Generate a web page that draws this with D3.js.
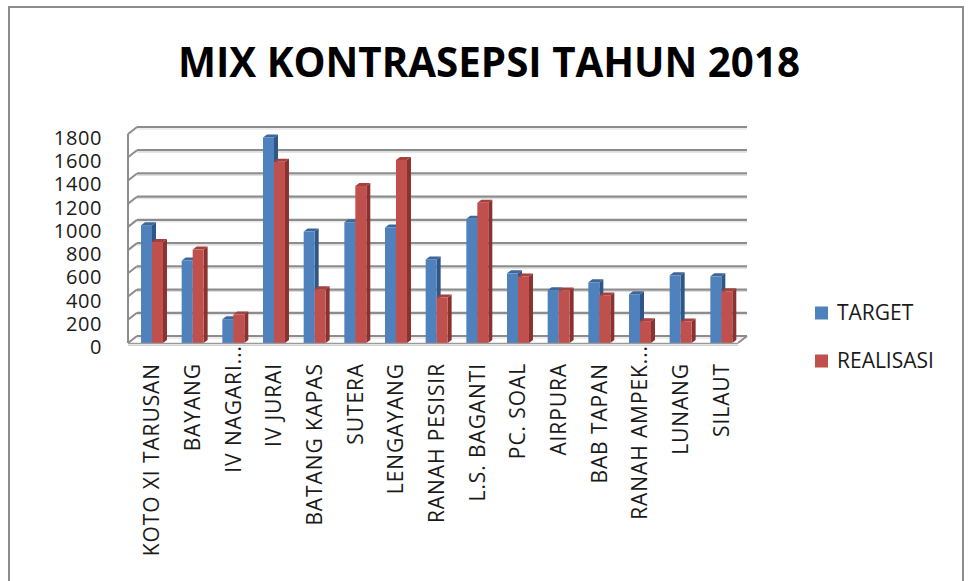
<!DOCTYPE html>
<html><head><meta charset="utf-8">
<script src="https://cdn.jsdelivr.net/npm/d3@7/dist/d3.min.js"></script>
<style>html,body{margin:0;padding:0;background:#fff;}svg{display:block;}</style>
</head><body>
<svg id="chart" width="969" height="581"></svg>
<script>
const categories = ["KOTO XI TARUSAN","BAYANG","IV NAGARI...","IV JURAI","BATANG KAPAS","SUTERA","LENGAYANG","RANAH PESISIR","L.S. BAGANTI","PC. SOAL","AIRPURA","BAB TAPAN","RANAH AMPEK...","LUNANG","SILAUT"];
const target    = [1015, 710, 205, 1770, 960, 1040, 995, 720, 1070, 600, 455, 523, 420, 583, 574];
const realisasi = [870, 805, 245, 1560, 462, 1352, 1577, 392, 1207, 573, 452, 410, 188, 186, 445];
const yTicks = [0,200,400,600,800,1000,1200,1400,1600,1800];
const seriesNames = ["TARGET","REALISASI"];
const title = "MIX KONTRASEPSI TAHUN 2018";

const colors = {
  TARGET:    {front:"#4f81bd", side:"#2f5685", top:"#3d6699"},
  REALISASI: {front:"#c0504d", side:"#8a3230", top:"#a5403d"}
};

const svg = d3.select("#chart");
const FONT = "'Open Sans', sans-serif";

// outer border
svg.append("rect").attr("x",9).attr("y",7).attr("width",954).attr("height",620)
  .attr("fill","none").attr("stroke","#8c8c8c").attr("stroke-width",2);

// title
svg.append("text").attr("x",489).attr("y",77).attr("text-anchor","middle")
  .attr("font-family",FONT).attr("font-weight","bold").attr("font-size",41)
  .attr("textLength",622).attr("lengthAdjust","spacingAndGlyphs")
  .attr("fill","#000").text(title);

// geometry
const x0 = 128, x1 = 738;      // front floor
const DX = 9, DY = -7;         // wall depth offset
const y = d3.scaleLinear().domain([0,1800]).range([343,134]); // front plane
const x = d3.scaleBand().domain(categories).range([x0,x1]).padding(0);
const bw = x.bandwidth();
const barOff = bw*0.32, barW = bw*0.27;
const bDX = 4, bDY = -3;

const grid = svg.append("g");
grid.append("line").attr("x1",x0).attr("x2",x0).attr("y1",y(0)).attr("y2",y(1800))
  .attr("stroke","#8c8c8c").attr("stroke-width",2);
yTicks.forEach(v=>{
  grid.append("line").attr("x1",x0+DX).attr("x2",x1+DX).attr("y1",y(v)+DY).attr("y2",y(v)+DY)
    .attr("stroke","#8c8c8c").attr("stroke-width",2.2);
  grid.append("line").attr("x1",x0+DX).attr("x2",x1+DX).attr("y1",y(v)+DY+2).attr("y2",y(v)+DY+2)
    .attr("stroke","#dcdcdc").attr("stroke-width",1);
  grid.append("line").attr("x1",x0).attr("x2",x0+DX).attr("y1",y(v)).attr("y2",y(v)+DY)
    .attr("stroke","#8c8c8c").attr("stroke-width",2);
});
grid.append("line").attr("x1",x1).attr("x2",x1+DX).attr("y1",y(0)).attr("y2",y(0)+DY)
  .attr("stroke","#8c8c8c").attr("stroke-width",2);

// y labels
svg.append("g").selectAll("text").data(yTicks).join("text")
  .attr("x",102).attr("y",d=>y(d)+4).attr("dy","0.35em").attr("text-anchor","end")
  .attr("font-family",FONT).attr("font-size",20).attr("fill","#1a1a1a")
  .attr("letter-spacing",0.6)
  .text(d=>d);

// bars
const bars = svg.append("g");
const data = [];
categories.forEach((c,i)=>{
  data.push({c, s:"TARGET", v:target[i], k:0});
  data.push({c, s:"REALISASI", v:realisasi[i], k:1});
});
data.forEach(d=>{
  const bx = x(d.c) + barOff + d.k*barW;
  const by = y(d.v), base = y(0);
  const col = colors[d.s];
  bars.append("path").attr("fill",col.side)
    .attr("d",`M${bx+barW},${by} L${bx+barW+bDX},${by+bDY} L${bx+barW+bDX},${base+bDY} L${bx+barW},${base} Z`);
  bars.append("path").attr("fill",col.top)
    .attr("d",`M${bx},${by} L${bx+bDX},${by+bDY} L${bx+barW+bDX},${by+bDY} L${bx+barW},${by} Z`);
  bars.append("rect").attr("x",bx).attr("y",by).attr("width",barW).attr("height",base-by)
    .attr("fill",col.front);
});

// floor front edge
svg.append("line").attr("x1",x0).attr("x2",x1).attr("y1",y(0)+0.5).attr("y2",y(0)+0.5)
  .attr("stroke","#9a9a9a").attr("stroke-width",1.5);
svg.append("line").attr("x1",x0).attr("x2",x1).attr("y1",y(0)+2.5).attr("y2",y(0)+2.5)
  .attr("stroke","#d0d0d0").attr("stroke-width",1);

// x labels
svg.append("g").selectAll("text").data(categories).join("text")
  .attr("transform",d=>{
    const cx = x(d) + barOff + barW;
    const ty = d.endsWith("...") ? 345 : 363;
    return `translate(${cx},${ty}) rotate(-90)`;
  })
  .attr("dy","0.35em").attr("text-anchor","end")
  .attr("font-family",FONT).attr("font-size",21).attr("fill","#1a1a1a")
  .attr("letter-spacing",0.9)
  .text(d=>d);

// legend
const lg = svg.append("g");
seriesNames.forEach((s,i)=>{
  const ly = 313 + i*48;
  lg.append("rect").attr("x",815).attr("y",ly-6.5).attr("width",13).attr("height",13)
    .attr("fill",colors[s].front);
  lg.append("text").attr("x",837).attr("y",ly).attr("dy","0.35em")
    .attr("font-family",FONT).attr("font-size",21).attr("fill","#1a1a1a").text(s);
});
</script>
</body></html>
